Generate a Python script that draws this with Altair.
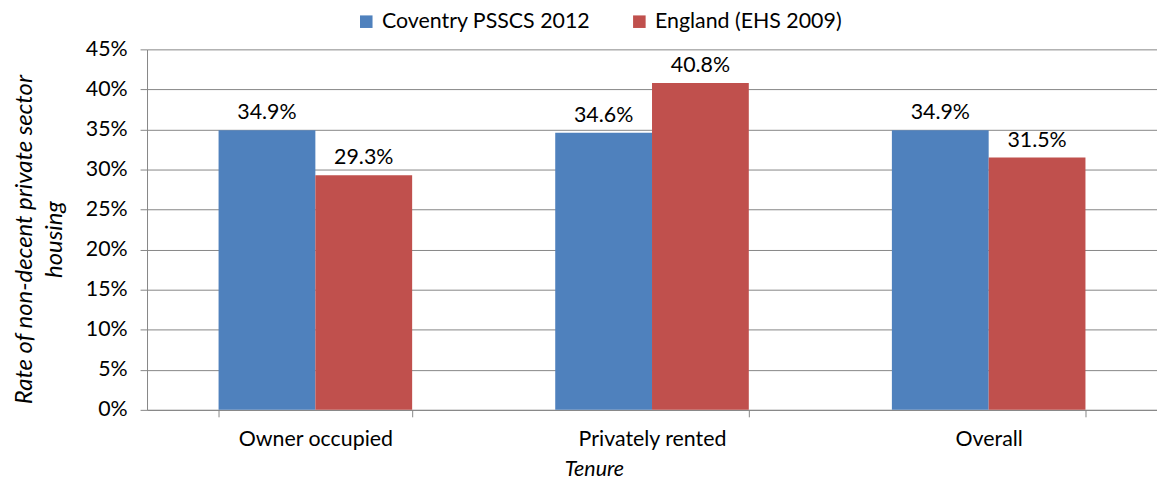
import altair as alt
import pandas as pd

categories = ["Owner occupied", "Privately rented", "Overall"]
series = ["Coventry PSSCS 2012", "England (EHS 2009)"]
coventry = [0.349, 0.346, 0.349]
england = [0.293, 0.408, 0.315]
colors = ["#4F81BD", "#C0504D"]

rows = []
for i, c in enumerate(categories):
    rows.append({"Tenure": c, "Series": series[0], "Value": coventry[i]})
    rows.append({"Tenure": c, "Series": series[1], "Value": england[i]})
df = pd.DataFrame(rows)

FONT = "Lato"
FS = 21.5

x = alt.X(
    "Tenure:N",
    sort=categories,
    scale=alt.Scale(paddingInner=0.425, paddingOuter=0.2125),
    axis=alt.Axis(
        title="Tenure",
        titleFontStyle="italic",
        titleFontWeight="normal",
        titleFontSize=21.5,
        titleColor="#000000",
        titleX=450,
        titleY=60,
        titleBaseline="middle",
        labelAngle=0,
        labelFontSize=FS,
        labelColor="#000000",
        labelPadding=12,
        tickBand="extent",
        tickSize=7,
        tickColor="#868686",
        domainColor="#868686",
        grid=False,
    ),
)
y = alt.Y(
    "Value:Q",
    scale=alt.Scale(domain=[0, 0.45]),
    axis=alt.Axis(
        format=".0%",
        values=[0, 0.05, 0.10, 0.15, 0.20, 0.25, 0.30, 0.35, 0.40, 0.45],
        title=["Rate of non-decent private sector", "housing"],
        titleFontStyle="italic",
        titleFontWeight="normal",
        titleFontSize=24,
        titleColor="#000000",
        titleAlign="center",
        titleBaseline="bottom",
        titleAngle=270,
        titleX=-111,
        titleY=191,
        titleLineHeight=30,
        labelFontSize=FS,
        labelColor="#000000",
        labelPadding=13,
        tickSize=7,
        tickColor="#868686",
        domainColor="#868686",
        gridColor="#868686",
        gridWidth=1,
    ),
)
color = alt.Color(
    "Series:N",
    sort=series,
    scale=alt.Scale(domain=series, range=colors),
    legend=alt.Legend(
        title=None,
        orient="none",
        direction="horizontal",
        legendX=210,
        legendY=-39,
        symbolType="square",
        symbolSize=160,
        symbolStrokeWidth=0,
        symbolOpacity=1,
        labelFontSize=FS,
        labelColor="#000000",
        labelOffset=5,
        labelLimit=0,
        columnPadding=38,
    ),
)

base = alt.Chart(df).encode(
    x=x,
    xOffset=alt.XOffset("Series:N", sort=series),
)
bars = base.mark_bar(stroke=None).encode(y=y, color=color)
text = base.mark_text(baseline="bottom", dy=-6, fontSize=FS, font=FONT, color="#000000").encode(
    y=alt.Y("Value:Q"),
    text=alt.Text("Value:Q", format=".1%"),
)

chart = (
    alt.layer(bars, text)
    .properties(
        width=1017,
        height=363,
        autosize=alt.AutoSizeParams(type="none"),
        padding={"left": 140, "top": 40, "right": 0, "bottom": 74},
    )
    .configure(font=FONT)
    .configure_view(stroke=None)
    .configure_axis(labelFont=FONT, titleFont=FONT)
    .configure_legend(labelFont=FONT)
)

chart.save("out.html", embed_options={"renderer": "svg", "actions": False})
